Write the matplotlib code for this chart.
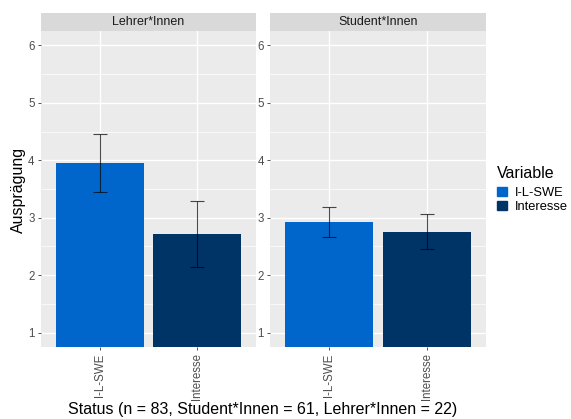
import matplotlib.pyplot as plt
import matplotlib.patches as mpatches
import numpy as np

# Daten
gruppen = ['Lehrer*Innen', 'Student*Innen']
variablen = ['I-L-SWE', 'Interesse']
mittel = [[3.95, 2.71], [2.92, 2.76]]
fehler_oben = [[4.45, 3.29], [3.18, 3.07]]
fehler_unten = [[3.44, 2.14], [2.66, 2.46]]
farben = ['#0066CC', '#003366']

plt.rcParams['font.family'] = ['Liberation Sans', 'DejaVu Sans']

W, H = 571, 419
fig = plt.figure(figsize=(W / 100, H / 100), dpi=100)

panel_x = [(41, 256), (270, 486)]
panel_top, panel_bot = 31, 347
strip_top = 13

for g, (x0, x1) in enumerate(panel_x):
    ax = fig.add_axes([x0 / W, 1 - panel_bot / H, (x1 - x0) / W, (panel_bot - panel_top) / H])
    ax.set_facecolor('#EBEBEB')
    pos = np.arange(1, len(variablen) + 1)
    ax.bar(pos, mittel[g], width=0.9, color=farben, zorder=2)
    yerr = [np.array(mittel[g]) - np.array(fehler_unten[g]),
            np.array(fehler_oben[g]) - np.array(mittel[g])]
    ax.errorbar(pos, mittel[g], yerr=yerr, fmt='none', ecolor='#000000', alpha=0.7,
                elinewidth=0.8, capsize=5, capthick=0.8, zorder=3)
    ax.set_xlim(0.4, 2.6)
    ax.set_ylim(0.75, 6.25)
    ax.set_yticks([1, 2, 3, 4, 5, 6])
    ax.set_yticks(np.arange(1.5, 6.5, 1), minor=True)
    ax.set_xticks(pos)
    ax.set_xticklabels(variablen, rotation=90)
    ax.grid(True, which='major', color='white', linewidth=1.0, zorder=0)
    ax.grid(True, which='minor', axis='y', color='white', linewidth=0.5, zorder=0)
    ax.set_axisbelow(True)
    for s in ax.spines.values():
        s.set_visible(False)
    ax.tick_params(axis='both', which='major', colors='#333333', labelcolor='#4D4D4D',
                   labelsize=8.3, length=2.5, width=0.6, pad=2)
    ax.tick_params(axis='y', which='minor', length=0)
    # Streifen
    sax = fig.add_axes([x0 / W, 1 - panel_top / H, (x1 - x0) / W, (panel_top - strip_top) / H])
    sax.set_facecolor('#D9D9D9')
    sax.set_xticks([])
    sax.set_yticks([])
    for s in sax.spines.values():
        s.set_visible(False)
    sax.text(0.5, 0.5, gruppen[g], ha='center', va='center', fontsize=9, color='#1A1A1A',
             transform=sax.transAxes)

fig.text(18 / W, 1 - 190 / H, 'Ausprägung', rotation=90, ha='center', va='center',
         fontsize=11.5, color='black')
fig.text(263 / W, 1 - 409 / H, 'Status (n = 83, Student*Innen = 61, Lehrer*Innen = 22)',
         ha='center', va='center', fontsize=11.5, color='black')

handles = [mpatches.Patch(color=c, label=v) for c, v in zip(farben, variablen)]
leg = fig.legend(handles=handles, title='Variable', loc='upper left',
                 bbox_to_anchor=(497 / W, 1 - 166 / H), frameon=False, fontsize=9.3,
                 title_fontsize=11.5, handlelength=0.8, handleheight=0.8,
                 handletextpad=0.55, labelspacing=0.12, borderpad=0.0, borderaxespad=0.0)
leg._legend_box.align = 'left'
leg._legend_box.sep = 4

fig.savefig('out.png', dpi=100)
